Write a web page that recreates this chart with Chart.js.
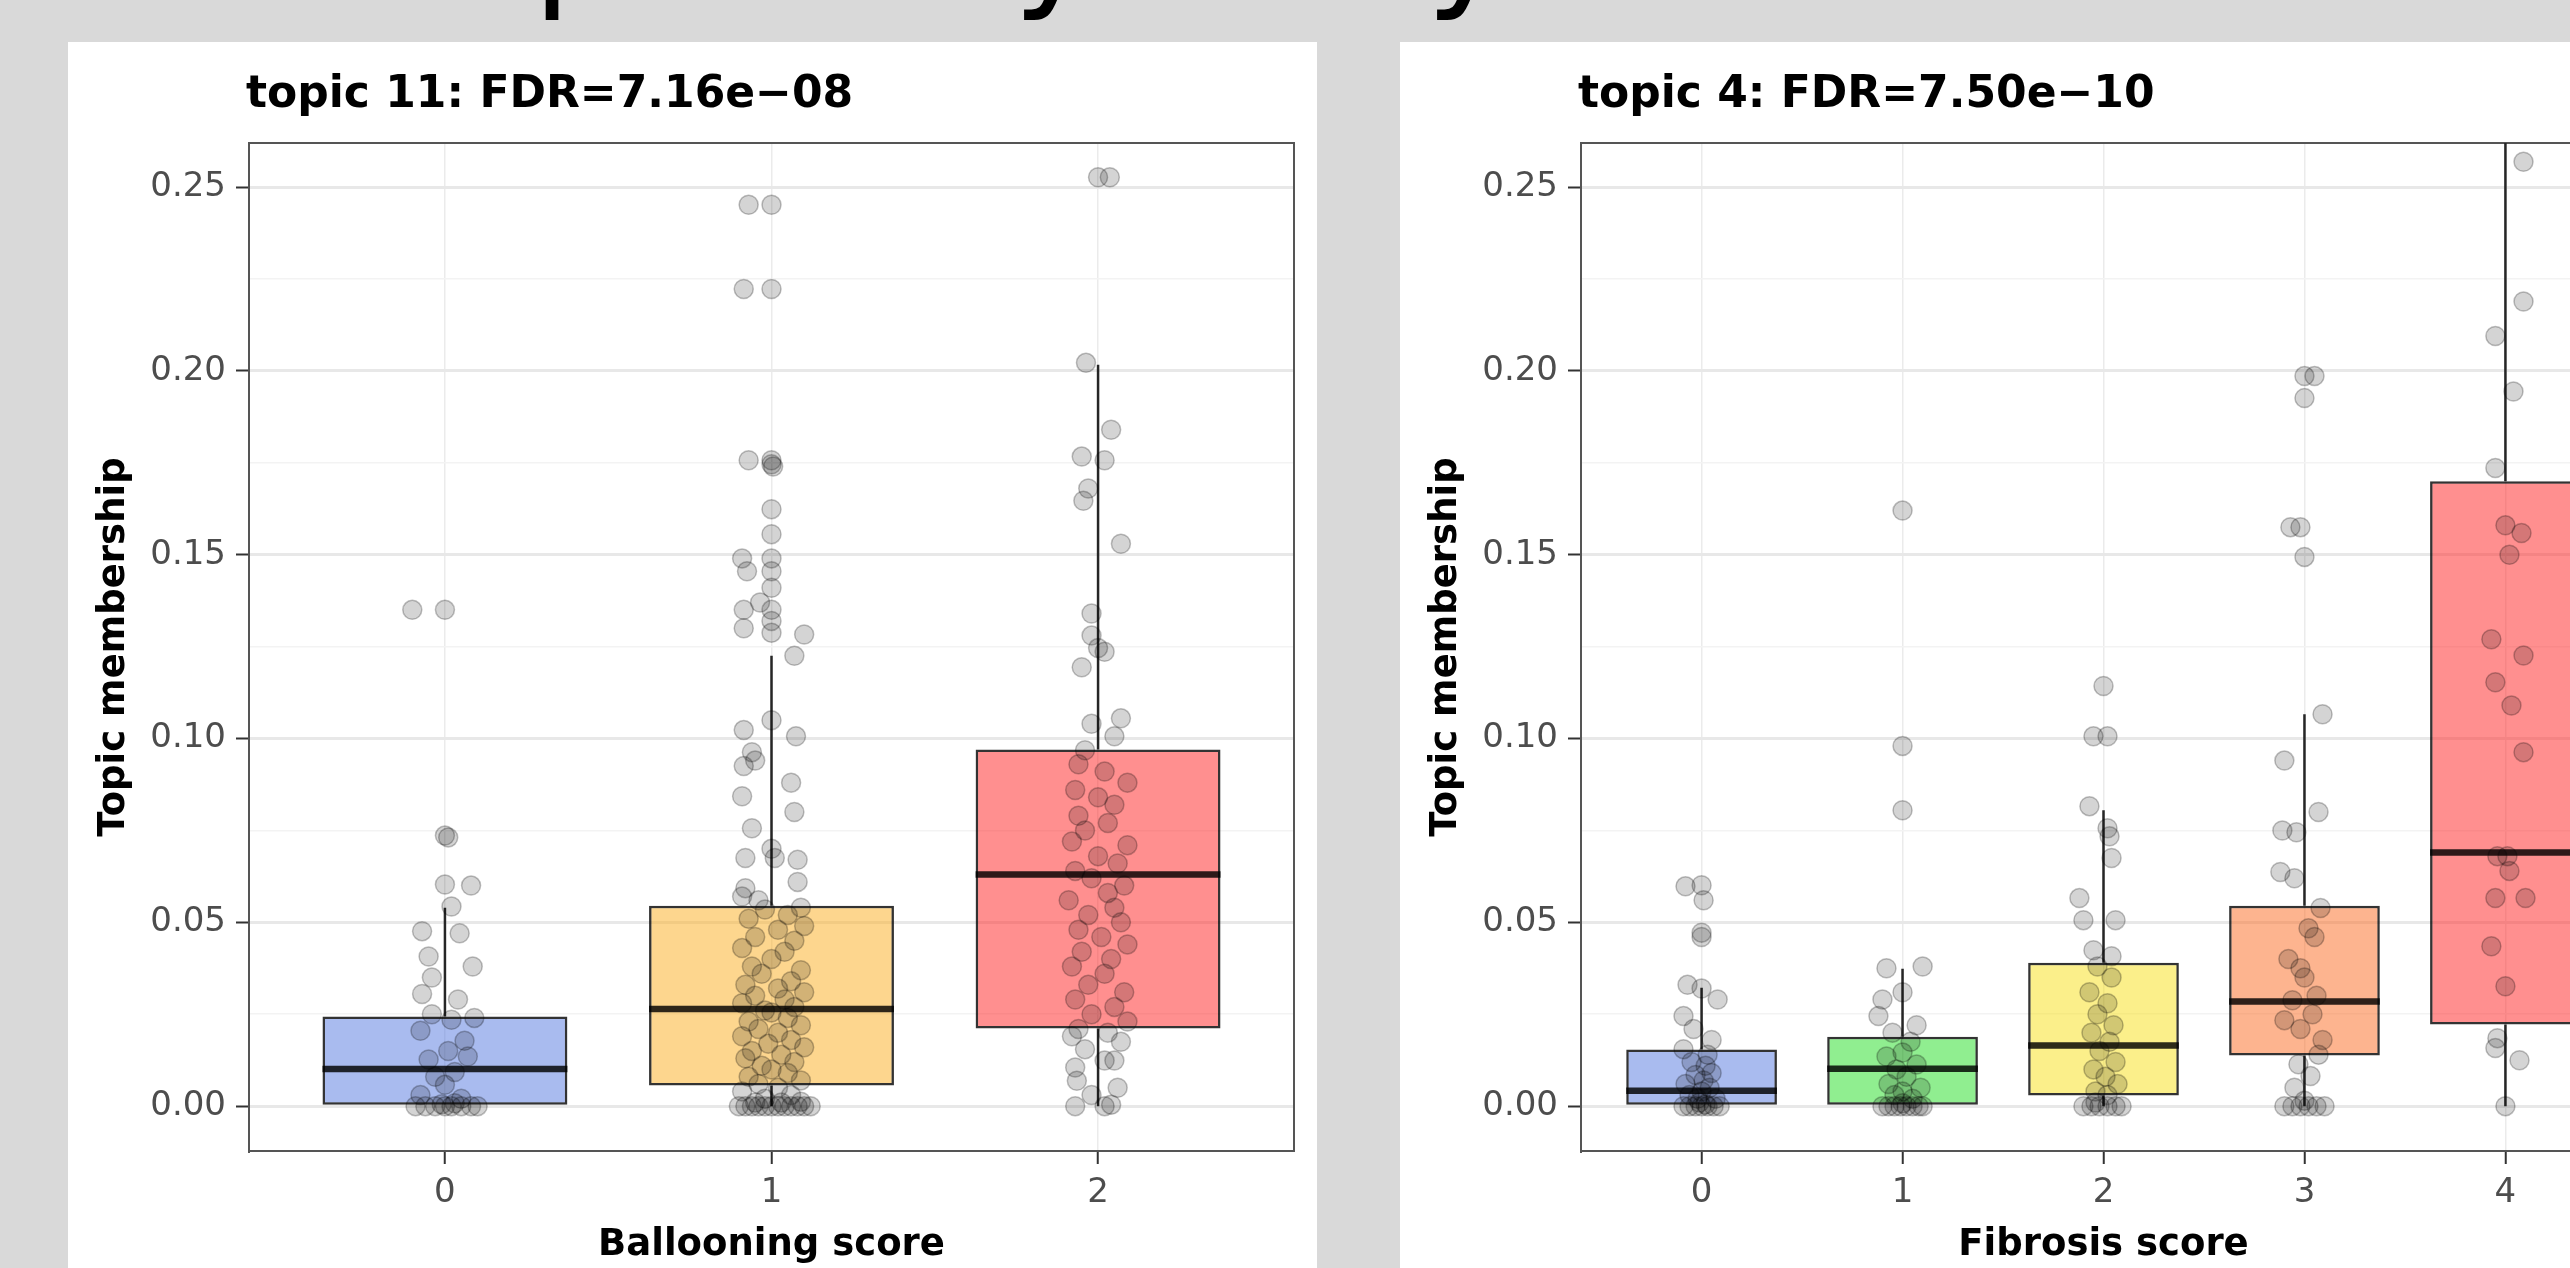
<!DOCTYPE html>
<html>
<head>
<meta charset="utf-8">
<script src="https://cdn.jsdelivr.net/npm/chart.js@4.4.0/dist/chart.umd.min.js"></script>
<style>
  html, body { margin: 0; padding: 0; width: 2570px; height: 1268px; overflow: hidden; background: #d9d9d9; }
  .panel { position: absolute; top: 42px; width: 1249px; height: 1226px; background: #fff; }
  #panelBalloon { left: 68px; }
  #panelFibrosis { left: 1400px; }
  #heading { position: absolute; left: 0; top: 0; }
</style>
</head>
<body>
<canvas id="heading" width="2570" height="42"></canvas>
<div class="panel" id="panelBalloon"><canvas id="chartBalloon" width="1249" height="1226"></canvas></div>
<div class="panel" id="panelFibrosis"><canvas id="chartFibrosis" width="1249" height="1226"></canvas></div>

<script>
// ---------- data ----------
const yMajor = [0, 0.05, 0.10, 0.15, 0.20, 0.25];
const yMinor = [0.025, 0.075, 0.125, 0.175, 0.225];

// Ballooning score panel (topic 11)
const balloonCats = ['0', '1', '2'];
const balloonLo  = [0, 0, 0];
const balloonQ1  = [0.0, 0.0056, 0.0211];
const balloonMed = [0.0101, 0.0264, 0.063];
const balloonQ3  = [0.0244, 0.0545, 0.097];
const balloonHi  = [0.054, 0.1225, 0.2017];
const balloonFill = ['rgba(83,119,223,0.5)', 'rgba(251,173,29,0.5)', 'rgba(255,32,32,0.5)'];

// points: [jitter offset, topic membership]
const balloonPts0 = [
  [-0.10,0.135],[0.0,0.135],[0.0,0.0736],[0.01,0.0731],[0.0,0.0603],[0.08,0.0600],[0.02,0.0543],
  [-0.07,0.0476],[0.045,0.047],[-0.05,0.0407],[0.085,0.038],[-0.04,0.035],[-0.07,0.0305],[0.04,0.029],
  [-0.04,0.025],[0.09,0.024],[0.02,0.0235],[-0.075,0.0205],[0.06,0.0178],[0.01,0.015],[-0.05,0.0127],
  [0.07,0.0135],[0.03,0.0093],[-0.03,0.008],[0.0,0.0058],[-0.075,0.003],[0.05,0.002],
  [-0.09,0],[-0.06,0],[-0.03,0],[0,0],[0.02,0],[0.05,0],[0.08,0],[0.1,0],[-0.01,0.0005],[0.03,0.0008]
];
const balloonPts1 = [
  [-0.07,0.2452],[0.0,0.2452],[-0.085,0.2223],[0.0,0.2223],[-0.07,0.1757],[0.0,0.1757],[0.0,0.1746],
  [0.005,0.174],[0.0,0.1624],[0.0,0.1556],[-0.09,0.149],[0.0,0.149],[-0.075,0.1455],[0.0,0.1455],
  [0.0,0.141],[-0.035,0.137],[-0.085,0.135],[0.0,0.135],[0.0,0.132],[-0.085,0.130],[0.0,0.1288],
  [0.1,0.1283],[0.07,0.1225],[-0.085,0.1023],[0.0,0.105],[0.075,0.1006],[-0.06,0.0963],[-0.05,0.094],
  [-0.085,0.0925],[0.06,0.088],[-0.09,0.0843],[0.07,0.080],[-0.06,0.0756],[0.0,0.070],[-0.08,0.0675],
  [0.08,0.067],[0.01,0.0675],[0.08,0.061],[-0.08,0.0593],[-0.09,0.057],[-0.04,0.056],
  [0.09,0.054],[-0.02,0.0535],[0.05,0.052],[-0.07,0.051],[0.1,0.049],[0.02,0.048],[-0.05,0.046],
  [0.07,0.045],[-0.09,0.043],[0.04,0.042],[0.0,0.04],[-0.06,0.038],[0.09,0.037],[-0.03,0.036],
  [0.06,0.034],[-0.08,0.033],[0.02,0.032],[0.1,0.031],[-0.05,0.03],[0.04,0.029],[-0.09,0.028],
  [0.07,0.027],[-0.02,0.026],[0.0,0.0255],[0.05,0.024],[-0.07,0.023],[0.09,0.022],[-0.04,0.021],
  [0.02,0.02],[-0.09,0.019],[0.06,0.018],[-0.01,0.017],[0.1,0.016],[-0.06,0.015],[0.03,0.014],
  [-0.08,0.013],[0.07,0.012],[-0.03,0.011],[0.0,0.010],[0.05,0.009],[-0.07,0.008],[0.09,0.007],
  [-0.04,0.006],[0.02,0.005],[-0.09,0.004],[0.06,0.003],[-0.02,0.002],
  [-0.1,0],[-0.08,0],[-0.06,0],[-0.04,0],[-0.02,0],[0,0],[0.02,0],[0.04,0],[0.06,0],[0.08,0],
  [0.1,0],[0.12,0],[-0.05,0.001],[0.03,0.001],[0.09,0.0012]
];
const balloonPts2 = [
  [0.0,0.2527],[0.036,0.2527],[-0.037,0.2022],[0.04,0.184],[-0.05,0.1767],[0.02,0.1757],[-0.03,0.168],
  [-0.045,0.1647],[0.07,0.153],[-0.02,0.134],[-0.02,0.128],[0.02,0.1236],[0.0,0.1246],[-0.05,0.1194],
  [-0.02,0.104],[0.07,0.1055],[0.05,0.1006],[-0.04,0.0968],
  [-0.06,0.093],[0.02,0.091],[0.09,0.088],[-0.07,0.086],[0.0,0.084],[0.05,0.082],[-0.06,0.079],
  [0.03,0.077],[-0.04,0.075],[0.09,0.071],[-0.08,0.072],[0.0,0.068],[0.06,0.066],[-0.07,0.064],
  [-0.02,0.062],[0.08,0.06],[0.03,0.058],[-0.09,0.056],[0.05,0.054],[-0.03,0.052],[0.07,0.05],
  [-0.06,0.048],[0.01,0.046],[0.09,0.044],[-0.05,0.042],[0.04,0.04],[-0.08,0.038],[0.02,0.036],
  [-0.03,0.033],[0.08,0.031],[-0.07,0.029],[0.05,0.027],[-0.02,0.025],[0.09,0.023],[-0.06,0.021],
  [0.03,0.02],[-0.08,0.019],[0.07,0.0175],[-0.04,0.0155],[0.05,0.0124],[-0.07,0.0105],[0.02,0.0124],
  [-0.065,0.0069],[0.06,0.005],[-0.02,0.003],[-0.07,0],[0.02,0],[0.04,0.0004]
];

// Fibrosis score panel (topic 4)
const fibrosisCats = ['0', '1', '2', '3', '4'];
const fibrosisLo  = [0, 0, 0, 0, 0];
const fibrosisQ1  = [0.0, 0.0, 0.0029, 0.0138, 0.0222];
const fibrosisMed = [0.0042, 0.0102, 0.0165, 0.0285, 0.069];
const fibrosisQ3  = [0.0154, 0.0189, 0.039, 0.0545, 0.170];
const fibrosisHi  = [0.0322, 0.0374, 0.0805, 0.1066, 0.262];
const fibrosisFill = ['rgba(83,119,223,0.5)', 'rgba(33,221,33,0.5)', 'rgba(247,223,21,0.5)',
                      'rgba(251,105,31,0.5)', 'rgba(255,32,32,0.5)'];

const fibrosisPts0 = [
  [-0.08,0.0598],[0.0,0.0601],[0.01,0.056],[0.0,0.0472],[0.0,0.046],[-0.07,0.033],[0.0,0.032],
  [0.08,0.029],[-0.09,0.0245],[-0.04,0.021],[0.05,0.018],[-0.09,0.0155],[0.03,0.014],[-0.05,0.012],
  [0.02,0.011],[0.05,0.009],[-0.03,0.0085],[0.01,0.007],[-0.08,0.006],[0.04,0.005],[0.0,0.004],
  [-0.06,0.003],[0.07,0.002],[-0.02,0.002],
  [-0.09,0],[-0.06,0],[-0.03,0],[0,0],[0.03,0],[0.06,0],[0.09,0],[-0.01,0.001],[0.02,0.0005]
];
const fibrosisPts1 = [
  [0.0,0.162],[0.0,0.098],[0.0,0.0805],[-0.08,0.0375],[0.1,0.038],[-0.1,0.029],[0.0,0.031],
  [-0.12,0.0245],[0.07,0.022],[-0.05,0.02],[0.04,0.0175],[0.0,0.0146],[-0.08,0.0135],[0.07,0.0113],
  [-0.03,0.01],[0.02,0.008],[-0.07,0.006],[0.09,0.005],[0.0,0.004],[-0.04,0.003],[0.05,0.002],
  [-0.1,0],[-0.07,0],[-0.04,0],[-0.01,0],[0.02,0],[0.05,0],[0.08,0],[0.1,0],[0.0,0.0008]
];
const fibrosisPts2 = [
  [0.0,0.1143],[-0.05,0.1006],[0.02,0.1006],[-0.07,0.0816],[0.02,0.0756],[0.03,0.0734],[0.04,0.0675],
  [-0.12,0.0566],[-0.1,0.0506],[0.06,0.0506],[-0.05,0.0424],[0.04,0.0408],[-0.03,0.038],[0.04,0.035],
  [-0.07,0.031],[0.02,0.028],[-0.03,0.025],[0.05,0.022],[-0.06,0.02],[0.03,0.0175],[-0.02,0.015],
  [0.06,0.012],[-0.05,0.01],[0.01,0.008],[0.07,0.006],[-0.04,0.004],[0.02,0.003],
  [-0.1,0],[-0.06,0],[-0.02,0],[0.02,0],[0.06,0],[0.09,0],[-0.04,0.001]
];
const fibrosisPts3 = [
  [0.0,0.1986],[0.05,0.1986],[0.0,0.1926],[-0.02,0.1575],[-0.07,0.1575],[0.0,0.1494],[0.09,0.1066],
  [-0.1,0.094],[0.07,0.080],[-0.11,0.075],[-0.04,0.0745],[-0.12,0.0637],[-0.05,0.062],[0.08,0.0539],
  [0.02,0.0484],[0.05,0.046],[-0.02,0.0375],[0.0,0.035],[-0.06,0.0288],[-0.1,0.0234],[0.09,0.018],
  [-0.03,0.0114],[0.03,0.0082],[-0.05,0.005],[0.06,0.03],[-0.08,0.04],[0.04,0.025],[-0.02,0.021],
  [0.07,0.014],[-0.1,0],[-0.06,0],[-0.02,0],[0.02,0],[0.06,0],[0.1,0],[0.0,0.0015]
];
const fibrosisPts4 = [
  [0.09,0.2569],[0.09,0.2189],[-0.05,0.2095],[0.04,0.1944],[-0.05,0.1736],[0.08,0.1559],[0.02,0.150],
  [0.0,0.158],[0.09,0.1226],[-0.07,0.127],[-0.05,0.1153],[0.03,0.109],[0.09,0.0963],[-0.04,0.068],
  [0.01,0.068],[0.02,0.064],[-0.05,0.0566],[0.1,0.0566],[-0.07,0.0435],[0.0,0.0326],[-0.04,0.0185],
  [-0.05,0.0158],[0.07,0.0125],[0.0,0]
];

// ---------- slide heading, cut off by the top edge (only descenders show) ----------
(function () {
  const hctx = document.getElementById('heading').getContext('2d');
  hctx.font = '140px "DejaVu Sans"';
  hctx.fillStyle = '#000';
  hctx.textBaseline = 'alphabetic';
  hctx.fillText('p', 533, -9);
  hctx.fillText('y', 1013, -9);
  hctx.fillText('y', 1426, -9);
})();

// ---------- drawing ----------
Chart.defaults.font.family = '"DejaVu Sans"';

const yTickValues = [...yMajor, ...yMinor].sort((a, b) => a - b);
const isMajor = v => yMajor.some(m => Math.abs(m - v) < 1e-9);

// ggplot-style title, left aligned with the panel
const panelTitle = {
  id: 'panelTitle',
  afterDraw(chart, args, opts) {
    const { ctx, chartArea } = chart;
    ctx.save();
    ctx.font = 'bold 44px "DejaVu Sans"';
    ctx.fillStyle = '#000';
    ctx.textBaseline = 'alphabetic';
    ctx.fillText(opts.text, chartArea.left - 3, 65);
    ctx.restore();
  }
};

function boxPanel(canvasId, cfg) {
  const { cats, lo, q1, med, q3, hi, fills, pts, title, xTitle } = cfg;
  const xMin = -0.6, xMax = cats.length - 0.4;
  const yMin = -0.0122, yMax = 0.262;

  const whiskers = [];
  const medians = [];
  cats.forEach((c, i) => {
    whiskers.push({ x: i, y: lo[i] }, { x: i, y: q1[i] }, { x: i, y: null },
                  { x: i, y: q3[i] }, { x: i, y: hi[i] }, { x: i, y: null });
    medians.push({ x: i - 0.375, y: med[i] }, { x: i + 0.375, y: med[i] }, { x: i, y: null });
  });
  const points = pts.flatMap((g, i) => g.map(([dx, y]) => ({ x: i + dx, y: y })));

  const ctx = document.getElementById(canvasId).getContext('2d');
  return new Chart(ctx, {
    type: 'bar',
    data: {
      datasets: [
        {
          type: 'scatter',
          data: points,
          pointRadius: 9.5,
          pointHoverRadius: 9.5,
          backgroundColor: 'rgba(0,0,0,0.17)',
          borderColor: 'rgba(0,0,0,0.25)',
          borderWidth: 1.5,
          order: 0
        },
        {
          type: 'line',
          data: medians,
          borderColor: 'rgba(0,0,0,0.82)',
          borderWidth: 6.5,
          borderCapStyle: 'butt',
          pointRadius: 0,
          spanGaps: false,
          order: 1
        },
        {
          type: 'bar',
          data: cats.map((c, i) => ({ x: i, y: [q1[i], q3[i]] })),
          backgroundColor: fills,
          borderColor: 'rgba(0,0,0,0.8)',
          borderWidth: 2.5,
          borderSkipped: false,
          categoryPercentage: 1,
          barPercentage: 0.75,
          order: 2
        },
        {
          type: 'line',
          data: whiskers,
          borderColor: '#262626',
          borderWidth: 2.5,
          pointRadius: 0,
          spanGaps: false,
          order: 3
        }
      ]
    },
    options: {
      responsive: false,
      animation: false,
      layout: { padding: { top: 101, right: 23, bottom: 0, left: 0 } },
      plugins: {
        legend: { display: false },
        tooltip: { enabled: false },
        panelTitle: { text: title }
      },
      scales: {
        x: {
          type: 'linear',
          offset: false,
          min: xMin,
          max: xMax,
          afterBuildTicks: s => { s.ticks = cats.map((c, i) => ({ value: i })); },
          afterFit: s => { s.height = 117; },
          ticks: {
            callback: v => cats[v] ?? '',
            font: { size: 34 },
            color: '#4d4d4d',
            padding: 9,
            maxRotation: 0,
            autoSkip: false
          },
          grid: { offset: false, color: '#ebebeb', lineWidth: 1.5, tickColor: '#333', tickLength: 13, tickWidth: 2 },
          border: { color: '#555', width: 2 },
          title: {
            display: true,
            text: xTitle,
            color: '#000',
            font: { size: 37, weight: 'bold' },
            padding: { top: 0, bottom: 0 }
          }
        },
        y: {
          type: 'linear',
          min: yMin,
          max: yMax,
          afterBuildTicks: s => { s.ticks = yTickValues.map(v => ({ value: v })); },
          afterFit: s => { s.width = 181; },
          ticks: {
            callback: v => isMajor(v) ? v.toFixed(2) : '',
            font: { size: 34 },
            color: '#4d4d4d',
            padding: 10,
            autoSkip: false
          },
          grid: {
            color: c => isMajor(c.tick.value) ? '#e8e8e8' : '#f3f3f3',
            lineWidth: c => isMajor(c.tick.value) ? 3 : 1.5,
            tickColor: c => isMajor(c.tick.value) ? '#333' : 'rgba(0,0,0,0)',
            tickLength: 13,
            tickWidth: 2
          },
          border: { color: '#555', width: 2 },
          title: {
            display: true,
            text: 'Topic membership',
            color: '#000',
            font: { size: 37, weight: 'bold' },
            padding: { top: 24, bottom: 0 }
          }
        },
        // top and right edges of the panel border
        xTop: {
          type: 'linear', position: 'top', offset: false, min: xMin, max: xMax,
          ticks: { display: false },
          grid: { display: false, drawTicks: false },
          border: { color: '#555', width: 2 },
          afterFit: s => { s.height = 0; }
        },
        yRight: {
          type: 'linear', position: 'right', min: yMin, max: yMax,
          ticks: { display: false },
          grid: { display: false, drawTicks: false },
          border: { color: '#555', width: 2 },
          afterFit: s => { s.width = 0; }
        }
      }
    },
    plugins: [panelTitle]
  });
}

boxPanel('chartBalloon', {
  cats: balloonCats, lo: balloonLo, q1: balloonQ1, med: balloonMed, q3: balloonQ3, hi: balloonHi,
  fills: balloonFill, pts: [balloonPts0, balloonPts1, balloonPts2],
  title: 'topic 11: FDR=7.16e\u221208', xTitle: 'Ballooning score'
});

boxPanel('chartFibrosis', {
  cats: fibrosisCats, lo: fibrosisLo, q1: fibrosisQ1, med: fibrosisMed, q3: fibrosisQ3, hi: fibrosisHi,
  fills: fibrosisFill, pts: [fibrosisPts0, fibrosisPts1, fibrosisPts2, fibrosisPts3, fibrosisPts4],
  title: 'topic 4: FDR=7.50e\u221210', xTitle: 'Fibrosis score'
});
</script>
</body>
</html>
